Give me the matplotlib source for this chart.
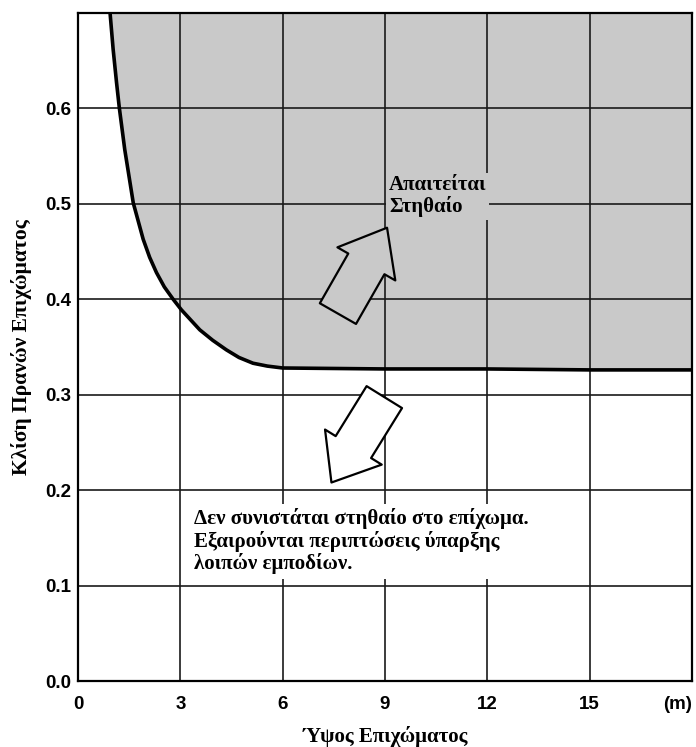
import matplotlib.pyplot as plt

# curve: wall height (m) vs embankment slope
height = [0.94, 1.03, 1.13, 1.21, 1.37, 1.62, 1.91, 2.10, 2.30, 2.53, 2.79, 3.03, 3.57, 3.95, 4.35, 4.72,
          5.13, 5.55, 6.0, 9.0, 12.0, 15.0, 18.0]
slope = [0.700, 0.662, 0.627, 0.601, 0.557, 0.501, 0.463, 0.444, 0.428, 0.413, 0.400, 0.389, 0.368, 0.357,
         0.347, 0.339, 0.333, 0.330, 0.328, 0.327, 0.327, 0.326, 0.326]

xticks = [0, 3, 6, 9, 12, 15, 18]
xlabels = ['0', '3', '6', '9', '12', '15', '(m)']
yticks = [0.0, 0.1, 0.2, 0.3, 0.4, 0.5, 0.6, 0.7]
ylabels = ['0.0', '0.1', '0.2', '0.3', '0.4', '0.5', '0.6', '']

# arrows: (tail, tip) in data units
arrow_up = ((7.62, 0.385), (9.06, 0.475))
arrow_down = ((8.98, 0.2975), (7.43, 0.208))

shade = '#c9c9c9'
serif = 'Liberation Serif'
sans = 'Liberation Sans'

fig = plt.figure(figsize=(6.96, 7.47), dpi=100)
ax = fig.add_axes([78 / 696, 1 - 681 / 747, 614 / 696, 668 / 747])

ax.fill_between(height, slope, 0.7, color=shade, zorder=0)
for x in xticks:
    ax.axvline(x, color='#1a1a1a', lw=1.2, zorder=1)
for y in yticks:
    ax.axhline(y, color='#1a1a1a', lw=1.2, zorder=1)
ax.plot(height, slope, color='black', lw=2.6, zorder=3, solid_capstyle='butt', solid_joinstyle='round')

ax.set_xlim(0, 18)
ax.set_ylim(0, 0.7)
ax.set_xticks(xticks)
ax.set_xticklabels(xlabels, fontfamily=sans, fontweight='bold', fontsize=13.5)
ax.get_xticklabels()[-1].set_ha('right')
ax.set_yticks(yticks)
ax.set_yticklabels(ylabels, fontfamily=sans, fontweight='bold', fontsize=13.5)
ax.tick_params(axis='x', length=0, pad=10.5)
ax.tick_params(axis='y', length=0, pad=4.5)
for s in ax.spines.values():
    s.set_linewidth(1.6)
    s.set_zorder(4)

ax.set_xlabel('Ύψος Επιχώματος', fontfamily=serif, fontweight='bold', fontsize=15, labelpad=10)
ax.set_ylabel('Κλίση Πρανών Επιχώματος', fontfamily=serif, fontweight='bold', fontsize=15.5, labelpad=10)

ax.text(9.12, 0.530, 'Απαιτείται\nΣτηθαίο', fontfamily=serif, fontweight='bold', fontsize=15,
        va='top', ha='left', linespacing=1.05, zorder=2,
        bbox=dict(fc=shade, ec='none', pad=2))
ax.text(3.4, 0.181, 'Δεν συνιστάται στηθαίο στο επίχωμα.\nΕξαιρούνται περιπτώσεις ύπαρξης\nλοιπών εμποδίων.',
        fontfamily=serif, fontweight='bold', fontsize=15, va='top', ha='left', linespacing=1.1, zorder=2,
        bbox=dict(fc='white', ec='none', pad=3))

style = 'simple,head_length=3.0,head_width=4.8,tail_width=3.0'
ax.annotate('', xy=arrow_up[1], xytext=arrow_up[0],
            arrowprops=dict(arrowstyle=style, mutation_scale=10, fc=shade, ec='black', lw=1.6,
                            shrinkA=0, shrinkB=0), zorder=5)
ax.annotate('', xy=arrow_down[1], xytext=arrow_down[0],
            arrowprops=dict(arrowstyle=style, mutation_scale=10, fc='white', ec='black', lw=1.6,
                            shrinkA=0, shrinkB=0), zorder=5)

fig.savefig('out.png', dpi=100)
